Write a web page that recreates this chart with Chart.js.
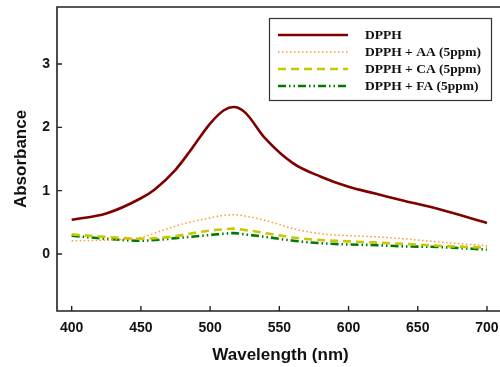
<!DOCTYPE html>
<html>
<head>
<meta charset="utf-8">
<script src="https://cdn.jsdelivr.net/npm/chart.js@4.4.1/dist/chart.umd.min.js"></script>
<style>
  html, body { margin: 0; padding: 0; background: #fff; }
  #wrap { width: 500px; height: 367px; overflow: hidden; position: relative; }
  canvas { display: block; }
</style>
</head>
<body>
<div id="wrap"><canvas id="c" width="504" height="367"></canvas></div>
<script>
// ---- data ----
const wavelengths = [400, 425, 450, 460, 475, 485, 500, 510, 517, 525, 540, 560, 580, 600, 620, 640, 665, 700];
const dpph   = [0.54, 0.64, 0.88, 1.02, 1.33, 1.61, 2.06, 2.27, 2.32, 2.24, 1.82, 1.43, 1.22, 1.06, 0.95, 0.84, 0.71, 0.49];
const dpphAA = [0.21, 0.22, 0.26, 0.33, 0.44, 0.50, 0.57, 0.61, 0.62, 0.60, 0.53, 0.40, 0.32, 0.29, 0.27, 0.24, 0.19, 0.13];
const dpphCA = [0.31, 0.27, 0.24, 0.25, 0.28, 0.32, 0.37, 0.39, 0.40, 0.38, 0.33, 0.26, 0.22, 0.20, 0.18, 0.16, 0.13, 0.10];
const dpphFA = [0.29, 0.24, 0.21, 0.22, 0.25, 0.27, 0.30, 0.32, 0.33, 0.31, 0.27, 0.21, 0.17, 0.15, 0.14, 0.12, 0.11, 0.07];

const seriesNames = ['DPPH', 'DPPH + AA (5ppm)', 'DPPH + CA (5ppm)', 'DPPH + FA (5ppm)'];
const xTicks = [400, 450, 500, 550, 600, 650, 700];
const yTicks = [0, 1, 2, 3];

const sans = '"Liberation Sans", Arial, sans-serif';
const serif = '"Liberation Serif", "Times New Roman", serif';

const pts = arr => arr.map((v, i) => ({ x: wavelengths[i], y: v }));

function ds(label, data, color, width, dash) {
  return {
    label, data: pts(data),
    borderColor: color, backgroundColor: color,
    borderWidth: width, borderDash: dash,
    pointRadius: 0, cubicInterpolationMode: 'monotone', fill: false
  };
}

// frame (left, top, bottom) + inward ticks
const framePlugin = {
  id: 'frame',
  afterDatasetsDraw(chart) {
    const { ctx, chartArea: a, scales: { x, y } } = chart;
    ctx.save();
    ctx.strokeStyle = '#222';
    ctx.lineWidth = 1.6;
    ctx.beginPath();
    ctx.moveTo(a.right + 2, a.top); ctx.lineTo(a.left, a.top);
    ctx.lineTo(a.left, a.bottom); ctx.lineTo(a.right + 2, a.bottom);
    ctx.stroke();
    ctx.lineWidth = 1.4;
    ctx.beginPath();
    xTicks.forEach(t => { const px = x.getPixelForValue(t); ctx.moveTo(px, a.bottom); ctx.lineTo(px, a.bottom - 5); });
    yTicks.forEach(t => { const py = y.getPixelForValue(t); ctx.moveTo(a.left, py); ctx.lineTo(a.left + 5, py); });
    ctx.stroke();
    ctx.restore();
  }
};

// boxed legend in the upper right
const legendPlugin = {
  id: 'boxLegend',
  afterDatasetsDraw(chart) {
    const ctx = chart.ctx;
    const bx = 269, by = 18, bw = 222, bh = 82;
    ctx.save();
    ctx.fillStyle = '#fff';
    ctx.fillRect(bx, by, bw, bh);
    ctx.strokeStyle = '#333';
    ctx.lineWidth = 1.2;
    ctx.strokeRect(bx + 0.5, by + 0.5, bw, bh);
    ctx.font = 'bold 13.5px ' + serif;
    ctx.textBaseline = 'middle';
    ctx.fillStyle = '#111';
    chart.data.datasets.forEach((d, i) => {
      const ly = 35 + i * 17;
      ctx.beginPath();
      ctx.strokeStyle = d.borderColor;
      ctx.lineWidth = d.borderWidth;
      ctx.setLineDash(d.borderDash || []);
      ctx.moveTo(278, ly); ctx.lineTo(348, ly);
      ctx.stroke();
      ctx.setLineDash([]);
      ctx.fillText(d.label, 365, ly + 1);
    });
    ctx.restore();
  }
};

new Chart(document.getElementById('c'), {
  type: 'line',
  data: {
    datasets: [
      ds(seriesNames[0], dpph,   '#800000', 2.6, []),
      ds(seriesNames[1], dpphAA, '#FF9633', 1.5, [1.5, 2.5]),
      ds(seriesNames[2], dpphCA, '#C8C800', 2.6, [8, 5]),
      ds(seriesNames[3], dpphFA, '#007A00', 2.6, [8, 3, 1.5, 3, 1.5, 3])
    ]
  },
  options: {
    responsive: false,
    animation: false,
    layout: { padding: { top: 7, left: 0, right: 0, bottom: 0 } },
    plugins: { legend: { display: false }, tooltip: { enabled: false } },
    scales: {
      x: {
        type: 'linear', min: 389.4, max: 712.3,
        afterFit: s => { s.height = 56; s.paddingLeft = 0; s.paddingRight = 0; },
        afterBuildTicks: s => { s.ticks = xTicks.map(v => ({ value: v })); },
        grid: { display: false, drawTicks: false },
        border: { display: false },
        ticks: { padding: 9, color: '#111', font: { family: sans, size: 14, weight: 'bold' }, maxRotation: 0 },
        title: { display: true, text: 'Wavelength (nm)', color: '#111', padding: { top: 0, bottom: 1 }, font: { family: sans, size: 17, weight: 'bold' } }
      },
      y: {
        type: 'linear', min: -0.9, max: 3.9,
        afterFit: s => { s.width = 57; s.paddingTop = 0; s.paddingBottom = 0; },
        afterBuildTicks: s => { s.ticks = yTicks.map(v => ({ value: v })); },
        grid: { display: false, drawTicks: false },
        border: { display: false },
        ticks: { padding: 7, color: '#111', font: { family: sans, size: 14, weight: 'bold' } },
        title: { display: true, text: 'Absorbance', color: '#111', padding: { top: 11, bottom: 0 }, font: { family: sans, size: 17, weight: 'bold' } }
      }
    }
  },
  plugins: [framePlugin, legendPlugin]
});
</script>
</body>
</html>
